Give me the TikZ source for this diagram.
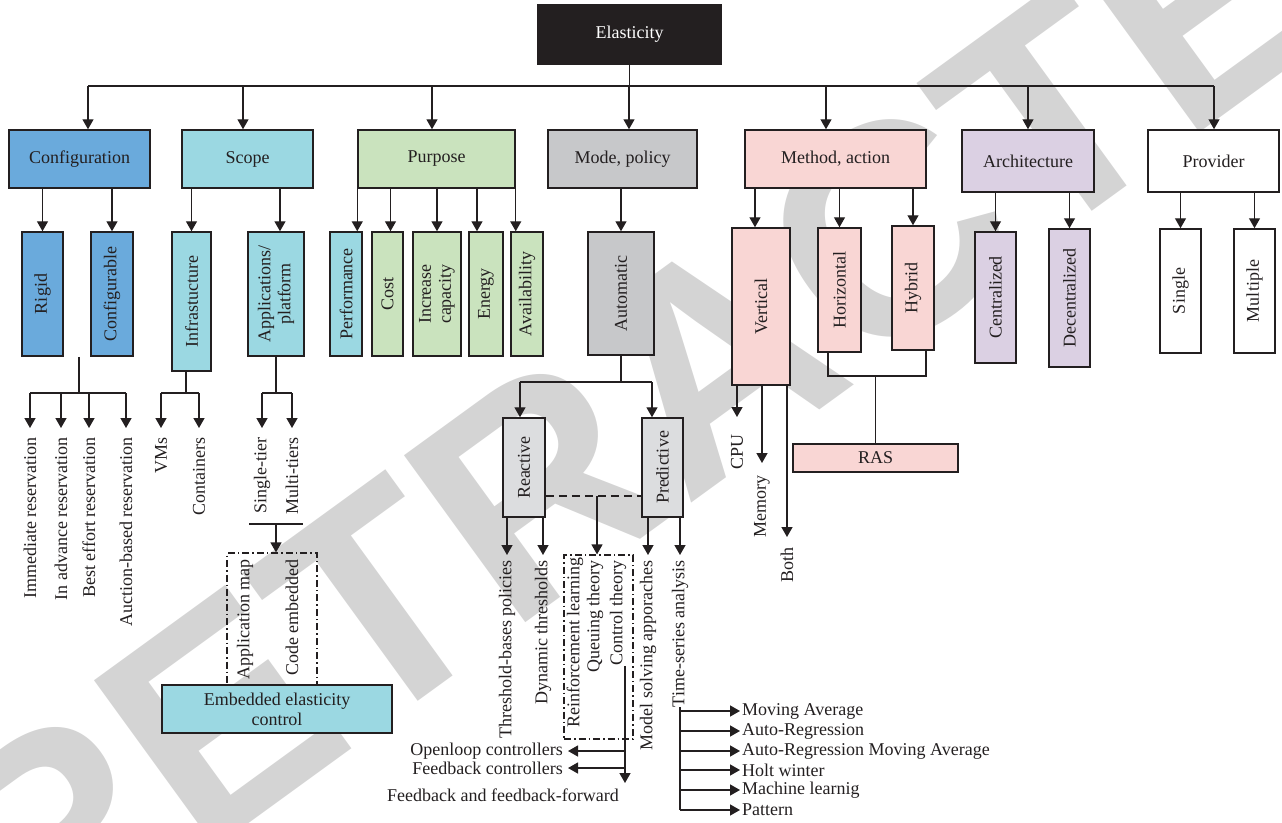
\documentclass[tikz,border=0pt]{standalone}
\usepackage{fontspec}
\setmainfont{Liberation Serif}
\newfontfamily\wmfont{Liberation Sans}
\usetikzlibrary{arrows.meta,calc}

\definecolor{ink}{RGB}{35,31,32}
\definecolor{cblue}{RGB}{106,170,220}
\definecolor{ccyan}{RGB}{155,216,226}
\definecolor{cgreen}{RGB}{202,227,190}
\definecolor{cgrey}{RGB}{199,200,202}
\definecolor{clgrey}{RGB}{220,221,223}
\definecolor{cpink}{RGB}{249,214,212}
\definecolor{clav}{RGB}{219,208,227}
\definecolor{wmgray}{RGB}{212,212,212}

\tikzset{
  tbox/.style={draw=ink, line width=1.5pt, inner sep=2pt, align=center, text=ink},
  vbox/.style={tbox, rotate=90},
  lab/.style={rotate=90, anchor=east, inner sep=0pt, text=ink, align=center},
  hlab/.style={inner sep=0pt, text=ink},
  ln/.style={draw=ink, line width=1.4pt},
  arr/.style={ln, -{Triangle[length=10pt,width=11pt]}},
  dashdot box/.style={draw=ink, line width=1.2pt, dash pattern=on 7pt off 3pt on 1.5pt off 3pt},
}

\begin{document}
\begin{tikzpicture}[x=1pt, y=-1pt, font=\fontsize{18}{20}\selectfont]
\useasboundingbox (0,0) rectangle (1282,822);

% background stamp
\begin{scope}
  \clip (0,0) rectangle (1282,822);
  \node[text=wmgray, rotate=36, inner sep=0pt] (wm) at (712,360)
    {\wmfont\bfseries\fontsize{300}{300}\selectfont RETRACTED};
\end{scope}

% root
\node[tbox, fill=ink, text=white, draw=ink, minimum width=183pt, minimum height=59pt] (elast) at (629.5,34.5) {Elasticity};

% first level
\node[tbox, fill=cblue,  minimum width=141pt, minimum height=58pt] (conf)  at (79.5,159)  {Configuration};
\node[tbox, fill=ccyan,  minimum width=131pt, minimum height=58pt] (scope) at (247.5,159) {Scope};
\node[tbox, fill=cgreen, minimum width=157pt, minimum height=58pt] (purp)  at (436.5,159) {Purpose};
\node[tbox, fill=cgrey,  minimum width=149pt, minimum height=58pt] (mode)  at (622.5,159) {Mode, policy};
\node[tbox, fill=cpink,  minimum width=181pt, minimum height=58pt] (meth)  at (835.5,159) {Method, action};
\node[tbox, fill=clav,   minimum width=132pt, minimum height=62pt] (arch)  at (1028,161)  {Architecture};
\node[tbox, fill=white,  minimum width=131pt, minimum height=62pt] (prov)  at (1213.5,161) {Provider};

% second level (rotated: width = vertical extent)
\node[vbox, fill=cblue,  minimum width=124pt, minimum height=41pt] (rigid)  at (42.5,294)  {Rigid};
\node[vbox, fill=cblue,  minimum width=124pt, minimum height=42pt] (confg)  at (112,294)   {Configurable};
\node[vbox, fill=ccyan,  minimum width=139pt, minimum height=39pt] (infra)  at (191.5,301.5) {Infrastucture};
\node[vbox, fill=ccyan,  minimum width=124pt, minimum height=56pt] (apps)   at (276,294)   {Applications/\\platform};
\node[vbox, fill=ccyan,  minimum width=124pt, minimum height=32pt] (perf)   at (346,294)   {Performance};
\node[vbox, fill=cgreen, minimum width=124pt, minimum height=31pt] (cost)   at (387.5,294) {Cost};
\node[vbox, fill=cgreen, minimum width=124pt, minimum height=48pt] (incr)   at (437,294)   {Increase\\capacity};
\node[vbox, fill=cgreen, minimum width=124pt, minimum height=34pt] (energy) at (486,294)   {Energy};
\node[vbox, fill=cgreen, minimum width=124pt, minimum height=32pt] (avail)  at (527,294)   {Availability};
\node[vbox, fill=cgrey,  minimum width=123pt, minimum height=66pt] (auto)   at (621,293.5) {Automatic};
\node[vbox, fill=cpink,  minimum width=157pt, minimum height=58pt] (vert)   at (761,306.5) {Vertical};
\node[vbox, fill=cpink,  minimum width=124pt, minimum height=43pt] (horiz)  at (839.5,290) {Horizontal};
\node[vbox, fill=cpink,  minimum width=124pt, minimum height=42pt] (hyb)    at (913,288)   {Hybrid};
\node[vbox, fill=clav,   minimum width=131pt, minimum height=41pt] (cent)   at (995.5,297.5) {Centralized};
\node[vbox, fill=clav,   minimum width=138pt, minimum height=41pt] (dec)    at (1069.5,298) {Decentralized};
\node[vbox, fill=white,  minimum width=124pt, minimum height=41pt] (single) at (1180.5,291) {Single};
\node[vbox, fill=white,  minimum width=124pt, minimum height=41pt] (multi)  at (1254.5,291) {Multiple};

% third level
\node[vbox, fill=clgrey, minimum width=99pt, minimum height=42pt] (react) at (524,467.5)   {Reactive};
\node[vbox, fill=clgrey, minimum width=99pt, minimum height=41pt] (pred)  at (662.5,467.5) {Predictive};
\node[tbox, fill=cpink, minimum width=165pt, minimum height=28pt] (ras) at (875.5,458) {RAS};

% leaf labels
\node[lab] (imm)  at (30,437)  {Immediate reservation};
\node[lab] (adv)  at (61,437)  {In advance reservation};
\node[lab] (best) at (89,437)  {Best effort reservation};
\node[lab] (auct) at (126,437) {Auction-based reservation};
\node[lab] (vms)  at (161,437) {VMs};
\node[lab] (cont) at (199,437) {Containers};
\node[lab] (stier) at (262,437) {Single-tier};
\node[lab] (mtier) at (292,437) {Multi-tiers};
\node[lab] (appmap) at (245,559) {Application map};
\node[lab] (codeemb) at (292,559) {Code embedded};
\node[lab] (cpu)  at (737,434) {CPU};
\node[lab] (mem)  at (762,475) {Memory};
\node[lab] (both) at (787,547) {Both};
\node[lab] (thr)  at (507,560) {Threshold-bases policies};
\node[lab] (dyn)  at (543,560) {Dynamic thresholds};
\node[lab] (rl)   at (575,557) {Reinforcement learning};
\node[lab] (qt)   at (595,560) {Queuing theory};
\node[lab] (ctl)  at (618,560) {Control theory};
\node[lab] (msa)  at (648,560) {Model solving apporaches};
\node[lab] (tsa)  at (680,560) {Time-series analysis};

% grouping frames
\node[dashdot box, minimum width=90pt, minimum height=132pt, inner sep=0pt] (ddb) at (272,619) {};
\node[dashdot box, minimum width=69pt, minimum height=184pt, inner sep=0pt] (rlbox) at (598.5,647) {};
\node[tbox, fill=ccyan, minimum width=230pt, minimum height=48pt] (embed) at (277,709) {Embedded elasticity\\control};

% controller labels
\node[hlab, anchor=east] (open) at (563,751) {Openloop controllers};
\node[hlab, anchor=east] (fbc)  at (563,768) {Feedback controllers};
\node[hlab] (fbf) at (503,795) {Feedback and feedback-forward};

% time-series methods
\node[hlab, anchor=west] (m1) at (742,711) {Moving Average};
\node[hlab, anchor=west] (m2) at (742,731) {Auto-Regression};
\node[hlab, anchor=west] (m3) at (742,751) {Auto-Regression Moving Average};
\node[hlab, anchor=west] (m4) at (742,770) {Holt winter};
\node[hlab, anchor=west] (m5) at (742,790) {Machine learnig};
\node[hlab, anchor=west] (m6) at (742,810) {Pattern};

% ---- connectors ----
\coordinate (busL) at (88,86);
\coordinate (busR) at (1214,86);
\draw[ln] (elast.south) -- (elast.south |- busL);
\draw[ln] (busL) -- (busR);
\foreach \x/\n in {88/conf, 243/scope, 432/purp, 629/mode, 826/meth, 1028/arch, 1214/prov}{
  \coordinate (d\n) at (\x,86);
  \draw[arr] (d\n) -- (d\n |- \n.north);
}

% configuration / scope
\draw[arr] (conf.south -| rigid) -- (rigid.east);
\draw[arr] (conf.south -| confg) -- (confg.east);
\draw[arr] (scope.south -| infra) -- (infra.east);
\draw[arr] ($(scope.south -| apps)+(4,0)$) -- ($(apps.east)+(4,0)$);

% purpose
\draw[arr] (purp.south west) -- (purp.south west |- perf.east);
\draw[arr] ($(purp.south -| cost)+(3,0)$) -- ($(cost.east)+(3,0)$);
\draw[arr] (purp.south -| incr) -- (incr.east);
\draw[arr] ($(purp.south -| energy)+(-9,0)$) -- ($(energy.east)+(-9,0)$);
\draw[arr] (purp.south east) -- (purp.south east |- avail.east);

% mode, method, architecture, provider
\draw[arr] (mode.south -| auto) -- (auto.east);
\draw[arr] ($(meth.south -| vert)+(-6,0)$) -- ($(vert.east)+(-6,0)$);
\draw[arr] (meth.south -| horiz) -- (horiz.east);
\draw[arr] (meth.south -| hyb) -- (hyb.east);
\draw[arr] (arch.south -| cent) -- (cent.east);
\draw[arr] (arch.south -| dec) -- (dec.east);
\draw[arr] (prov.south -| single) -- (single.east);
\draw[arr] (prov.south -| multi) -- (multi.east);

% reservation kinds
\coordinate (cb) at (79,393);
\draw[ln] (cb |- rigid.west) -- (cb);
\draw[ln] (cb -| imm) -- (cb -| auct);
\foreach \n in {imm,adv,best,auct} \draw[arr, shorten >=9pt] (cb -| \n) -- (\n.east);

% infrastructure kinds
\coordinate (ib) at (186,393);
\draw[ln] (ib |- infra.west) -- (ib);
\draw[ln] (ib -| vms) -- (ib -| cont);
\foreach \n in {vms,cont} \draw[arr, shorten >=9pt] (ib -| \n) -- (\n.east);

% application tiers
\coordinate (ab) at (276,393);
\draw[ln] (apps.west) -- (ab);
\draw[ln] (ab -| stier) -- (ab -| mtier);
\foreach \n in {stier,mtier} \draw[arr, shorten >=9pt] (ab -| \n) -- (\n.east);
\coordinate (ul) at (276,524);
\draw[ln] ($(ul)+(-27,0)$) -- ($(ul)+(27,0)$);
\draw[arr] (ul) -- (ul |- ddb.north);

% automatic
\coordinate (rL) at (520,382);
\coordinate (rR) at (652,382);
\draw[ln] (auto.west) -- (auto.west |- rL);
\draw[ln] (rL) -- (rR);
\draw[arr] (rL) -- (rL |- react.east);
\draw[arr] (rR) -- (rR |- pred.east);

\coordinate (dq) at (597,496);
\draw[draw=ink, line width=1.3pt, dash pattern=on 8pt off 5pt] (dq -| react.south) -- (dq -| pred.north);
\draw[arr] (dq) -- (dq |- rlbox.north);
\draw[arr, shorten >=5pt] (react.west -| thr) -- (thr.east);
\draw[arr, shorten >=5pt] (react.west -| dyn) -- (dyn.east);
\draw[arr, shorten >=5pt] (pred.west -| msa) -- (msa.east);
\draw[arr, shorten >=5pt] (pred.west -| tsa) -- (tsa.east);

% control theory
\coordinate (ctx) at (625,783);
\draw[arr] (ctx |- ctl.west) -- (ctx);
\draw[arr, shorten >=5pt] (ctx |- open) -- (open.east);
\draw[arr, shorten >=5pt] (ctx |- fbc) -- (fbc.east);

% time series
\draw[ln] (tsa.west) -- (tsa.west |- m6);
\foreach \i in {1,...,6} \draw[arr, shorten >=2pt] (tsa.west |- m\i) -- (m\i.west);

% vertical scaling
\draw[arr, shorten >=17pt] (vert.west -| cpu) -- (cpu.east);
\draw[arr, shorten >=12pt] (vert.west -| mem) -- (mem.east);
\draw[arr, shorten >=10pt] (vert.west -| both) -- (both.east);

% horizontal / hybrid to RAS
\coordinate (hj) at (828,376);
\coordinate (hk) at (926,376);
\draw[ln] (hj |- horiz.west) -- (hj) -- (hk) -- (hk |- hyb.west);
\draw[ln] (ras.north |- hj) -- (ras.north);

\end{tikzpicture}
\end{document}
